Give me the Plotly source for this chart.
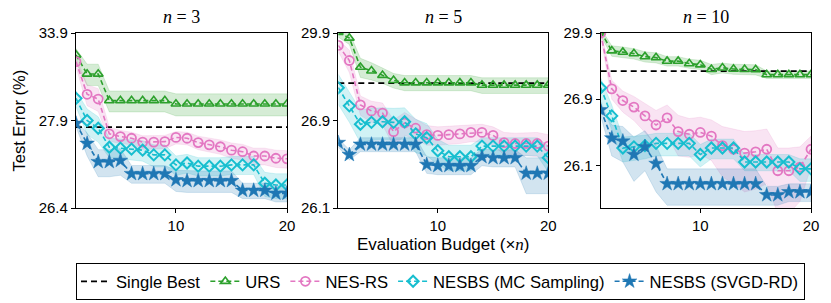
import numpy as np
import plotly.graph_objects as go

budget = list(range(1, 21))
panel_n = ["3", "5", "10"]
legend_names = ["Single Best", "URS", "NES-RS", "NESBS (MC Sampling)", "NESBS (SVGD-RD)"]

# ---------------- n = 3 ----------------
single_best_n3 = 27.70
urs_n3 = [31.55, 30.08, 30.08, 28.64, 28.64, 28.64, 28.64, 28.64, 28.64, 28.50,
          28.50, 28.50, 28.50, 28.50, 28.50, 28.50, 28.50, 28.50, 28.50, 28.50]
urs_std_n3 = [0.6, 0.7, 0.7, 0.45, 0.45, 0.45, 0.45, 0.45, 0.45, 0.45,
              0.45, 0.45, 0.45, 0.45, 0.45, 0.45, 0.45, 0.45, 0.45, 0.45]
nesrs_n3 = [30.98, 28.93, 28.71, 27.52, 27.45, 27.41, 27.32, 27.32, 27.33, 27.43,
            27.41, 27.31, 27.26, 27.22, 27.15, 27.12, 27.04, 27.04, 27.00, 26.99]
nesrs_std_n3 = [0.4, 0.5, 0.5, 0.18, 0.16, 0.15, 0.15, 0.15, 0.15, 0.15,
                0.15, 0.15, 0.15, 0.15, 0.15, 0.15, 0.15, 0.15, 0.15, 0.15]
mc_n3 = [28.74, 27.90, 27.67, 27.21, 27.19, 27.17, 27.15, 27.06, 27.06, 26.89,
         26.92, 26.87, 26.87, 26.87, 26.89, 26.89, 26.89, 26.64, 26.62, 26.62]
mc_std_n3 = [0.35, 0.4, 0.35, 0.2, 0.2, 0.2, 0.2, 0.2, 0.2, 0.15,
             0.15, 0.14, 0.14, 0.14, 0.14, 0.14, 0.14, 0.14, 0.14, 0.14]
svgd_n3 = [27.81, 27.29, 26.94, 26.94, 26.96, 26.76, 26.76, 26.76, 26.76, 26.68,
           26.67, 26.67, 26.67, 26.67, 26.67, 26.56, 26.56, 26.56, 26.53, 26.53]
svgd_std_n3 = [0.1, 0.25, 0.22, 0.22, 0.22, 0.12, 0.12, 0.12, 0.12, 0.13,
               0.13, 0.13, 0.13, 0.13, 0.13, 0.08, 0.08, 0.08, 0.08, 0.08]

# ---------------- n = 5 ----------------
single_best_n5 = 27.73
urs_n5 = [29.95, 29.60, 28.25, 28.12, 27.97, 27.81, 27.74, 27.74, 27.74, 27.74,
          27.74, 27.74, 27.74, 27.67, 27.67, 27.67, 27.67, 27.67, 27.67, 27.67]
urs_std_n5 = [0.3, 0.35, 0.35, 0.3, 0.25, 0.22, 0.22, 0.22, 0.22, 0.22,
              0.22, 0.22, 0.22, 0.22, 0.22, 0.22, 0.22, 0.22, 0.22, 0.22]
nesrs_n5 = [29.20, 28.51, 27.19, 27.07, 27.03, 26.73, 26.86, 26.78, 26.69, 26.68,
            26.69, 26.70, 26.72, 26.72, 26.68, 26.59, 26.58, 26.58, 26.58, 26.55]
nesrs_std_n5 = [0.3, 0.45, 0.2, 0.2, 0.2, 0.18, 0.18, 0.15, 0.13, 0.12,
                0.12, 0.12, 0.12, 0.12, 0.12, 0.13, 0.13, 0.13, 0.14, 0.14]
mc_n5 = [27.60, 27.17, 26.84, 26.87, 26.88, 26.87, 26.88, 26.70, 26.65, 26.50,
         26.44, 26.44, 26.44, 26.55, 26.55, 26.55, 26.55, 26.55, 26.55, 26.43]
mc_std_n5 = [0.4, 0.3, 0.25, 0.25, 0.25, 0.25, 0.25, 0.22, 0.2, 0.13,
             0.12, 0.12, 0.12, 0.1, 0.1, 0.1, 0.1, 0.1, 0.1, 0.12]
svgd_n5 = [26.59, 26.46, 26.57, 26.57, 26.57, 26.57, 26.57, 26.57, 26.37, 26.36,
           26.36, 26.36, 26.36, 26.44, 26.43, 26.43, 26.43, 26.30, 26.30, 26.30]
svgd_std_n5 = [0.05, 0.05, 0.08, 0.08, 0.08, 0.08, 0.08, 0.08, 0.07, 0.07,
               0.07, 0.07, 0.07, 0.08, 0.08, 0.08, 0.08, 0.13, 0.13, 0.13]

# ---------------- n = 10 ----------------
single_best_n10 = 27.72
urs_n10 = [30.00, 28.68, 28.60, 28.52, 28.36, 28.31, 28.14, 28.14, 28.03, 27.98,
           27.79, 27.85, 27.80, 27.79, 27.78, 27.59, 27.59, 27.59, 27.59, 27.59]
urs_std_n10 = [0.3, 0.3, 0.3, 0.28, 0.26, 0.25, 0.22, 0.22, 0.2, 0.2,
               0.2, 0.2, 0.2, 0.2, 0.2, 0.13, 0.13, 0.13, 0.13, 0.13]
nesrs_n10 = [29.90, 27.15, 26.87, 26.74, 26.59, 26.46, 26.56, 26.38, 26.35, 26.37,
             26.33, 26.24, 26.21, 26.18, 26.19, 26.21, 26.07, 26.07, 26.09, 26.21]
nesrs_std_n10 = [0.3, 0.25, 0.22, 0.22, 0.22, 0.22, 0.22, 0.22, 0.2, 0.2,
                 0.2, 0.2, 0.2, 0.2, 0.2, 0.2, 0.15, 0.15, 0.14, 0.12]
mc_n10 = [27.18, 26.59, 26.22, 26.23, 26.24, 26.26, 26.26, 26.26, 26.26, 26.17,
          26.22, 26.22, 26.22, 26.12, 26.12, 26.12, 26.12, 26.12, 26.08, 26.08]
mc_std_n10 = [0.3, 0.19, 0.1, 0.1, 0.1, 0.1, 0.1, 0.1, 0.1, 0.08,
              0.08, 0.08, 0.08, 0.05, 0.05, 0.05, 0.05, 0.05, 0.06, 0.06]
svgd_n10 = [26.69, 26.31, 26.28, 26.17, 26.23, 26.11, 26.01, 26.01, 26.01, 26.01,
            26.01, 26.01, 26.01, 26.01, 26.01, 25.97, 25.97, 25.98, 25.98, 25.98]
svgd_std_n10 = [0.1, 0.15, 0.16, 0.15, 0.16, 0.13, 0.07, 0.07, 0.07, 0.07,
                0.07, 0.07, 0.07, 0.07, 0.07, 0.03, 0.03, 0.03, 0.03, 0.03]

# y tick labels and axis limits per panel
yticks = [[26.4, 27.9, 33.9], [26.1, 26.9, 29.9], [26.1, 26.9, 29.9]]
ylims = [[26.4, 33.9], [26.1, 29.9], [25.933, 29.9]]
# offset of the log(y - c) axis scale used by each panel
scale_offset = [25.9, 25.809, 25.809]

panels = [
    (single_best_n3, [(urs_n3, urs_std_n3), (nesrs_n3, nesrs_std_n3), (mc_n3, mc_std_n3), (svgd_n3, svgd_std_n3)]),
    (single_best_n5, [(urs_n5, urs_std_n5), (nesrs_n5, nesrs_std_n5), (mc_n5, mc_std_n5), (svgd_n5, svgd_std_n5)]),
    (single_best_n10, [(urs_n10, urs_std_n10), (nesrs_n10, nesrs_std_n10), (mc_n10, mc_std_n10), (svgd_n10, svgd_std_n10)]),
]

colors = ["#2ca02c", "#e377c2", "#17becf", "#1f77b4"]
fills = ["rgba(44,160,44,0.2)", "rgba(227,119,194,0.2)", "rgba(23,190,207,0.2)", "rgba(31,119,180,0.2)"]
symbols = ["triangle-up-open", "circle-open", "diamond-open", "star"]
msizes = [8.5, 9, 8.5, 11]
mlw = [1.6, 1.8, 2.0, 0.5]


def tf(v, c):
    return np.log(np.asarray(v, dtype=float) - c)


W, H = 831, 303
ml, mr, mt, mb = 76, 20, 33, 95
pw = W - ml - mr
ph = H - mt - mb
px_domains = [(76, 287), (338.3, 548.3), (600.7, 811)]
domains = [((a - ml) / pw, (b - ml) / pw) for a, b in px_domains]

fig = go.Figure()
FONT = "Liberation Sans, Arial, Helvetica, sans-serif"
SERIF = "Liberation Serif, Times New Roman, serif"

for p, (sb, series) in enumerate(panels):
    c = scale_offset[p]
    xa = "x" if p == 0 else f"x{p+1}"
    ya = "y" if p == 0 else f"y{p+1}"
    x = np.array(budget)
    for s, (mean, std) in enumerate(series):
        m = np.array(mean)
        sd = np.array(std)
        up = tf(m + sd, c)
        lo = tf(m - sd, c)
        fig.add_trace(go.Scatter(
            x=np.concatenate([x, x[::-1]]), y=np.concatenate([up, lo[::-1]]),
            fill="toself", fillcolor=fills[s], line=dict(color=fills[s], width=0.8),
            mode="lines", hoverinfo="skip", showlegend=False, xaxis=xa, yaxis=ya))
    fig.add_trace(go.Scatter(
        x=[budget[0], budget[-1]], y=tf([sb, sb], c), mode="lines",
        line=dict(color="black", width=1.8, dash="6px,4px"),
        name=legend_names[0], showlegend=(p == 0), legendgroup="sb",
        xaxis=xa, yaxis=ya))
    for s, (mean, std) in enumerate(series):
        fig.add_trace(go.Scatter(
            x=x, y=tf(mean, c), mode="lines+markers",
            line=dict(color=colors[s], width=1.6, dash="5px,3px"),
            marker=dict(symbol=symbols[s], size=msizes[s], color=colors[s],
                        line=dict(color=colors[s], width=mlw[s])),
            name=legend_names[s + 1], showlegend=(p == 0), legendgroup=f"s{s}",
            xaxis=xa, yaxis=ya))

tickfont = dict(family=FONT, size=15, color="black")
layout = dict(
    width=W, height=H,
    margin=dict(l=ml, r=mr, t=mt, b=mb, autoexpand=False),
    plot_bgcolor="white", paper_bgcolor="white",
    font=dict(family=FONT, size=15, color="black"),
    showlegend=True,
    hovermode=False,
    legend=dict(orientation="h", xref="container", yref="paper",
                x=440.5 / W, xanchor="center",
                y=-(263 - (mt + ph)) / ph, yanchor="top",
                bordercolor="black", borderwidth=1,
                font=dict(family=FONT, size=16.6, color="black"),
                itemwidth=30, tracegroupgap=0),
)
for p in range(3):
    c = scale_offset[p]
    kx = "xaxis" if p == 0 else f"xaxis{p+1}"
    ky = "yaxis" if p == 0 else f"yaxis{p+1}"
    ya_name = "y" if p == 0 else f"y{p+1}"
    xa_name = "x" if p == 0 else f"x{p+1}"
    layout[kx] = dict(domain=list(domains[p]), range=[1, 20], anchor=ya_name,
                      tickvals=[10, 20], ticktext=["10", "20"],
                      showgrid=False, zeroline=False, showline=True, mirror=True,
                      linecolor="black", linewidth=1.2, ticks="outside", ticklen=4,
                      tickcolor="black", tickfont=tickfont)
    layout[ky] = dict(domain=[0, 1], range=list(tf(ylims[p], c)), anchor=xa_name,
                      tickvals=list(tf(yticks[p], c)), ticktext=[f"{t:.1f}" for t in yticks[p]],
                      showgrid=False, zeroline=False, showline=True, mirror=True,
                      linecolor="black", linewidth=1.2, ticks="outside", ticklen=4,
                      tickcolor="black", tickfont=tickfont)
fig.update_layout(**layout)

annotations = []
for p in range(3):
    a, b = domains[p]
    annotations.append(dict(
        text=f"<i>n</i> = {panel_n[p]}", x=(a + b) / 2, y=1 + (mt - 17) / ph,
        xref="paper", yref="paper", xanchor="center", yanchor="middle",
        showarrow=False, font=dict(family=SERIF, size=18, color="black")))
annotations.append(dict(
    text="Evaluation Budget (×<span style='font-family:Liberation Serif'><i>n</i></span>)",
    x=(sum(domains[1])) / 2, y=-(244 - (mt + ph)) / ph,
    xref="paper", yref="paper", xanchor="center", yanchor="middle",
    showarrow=False, font=dict(family=FONT, size=17, color="black")))
annotations.append(dict(
    text="Test Error (%)", x=(18 - ml) / pw, y=0.5, textangle=-90,
    xref="paper", yref="paper", xanchor="center", yanchor="middle",
    showarrow=False, font=dict(family=FONT, size=16.5, color="black")))
fig.update_layout(annotations=annotations)

fig.write_html("out.html", config={"displayModeBar": False},
               post_script="document.body.style.margin='0';document.body.style.overflow='hidden';")
